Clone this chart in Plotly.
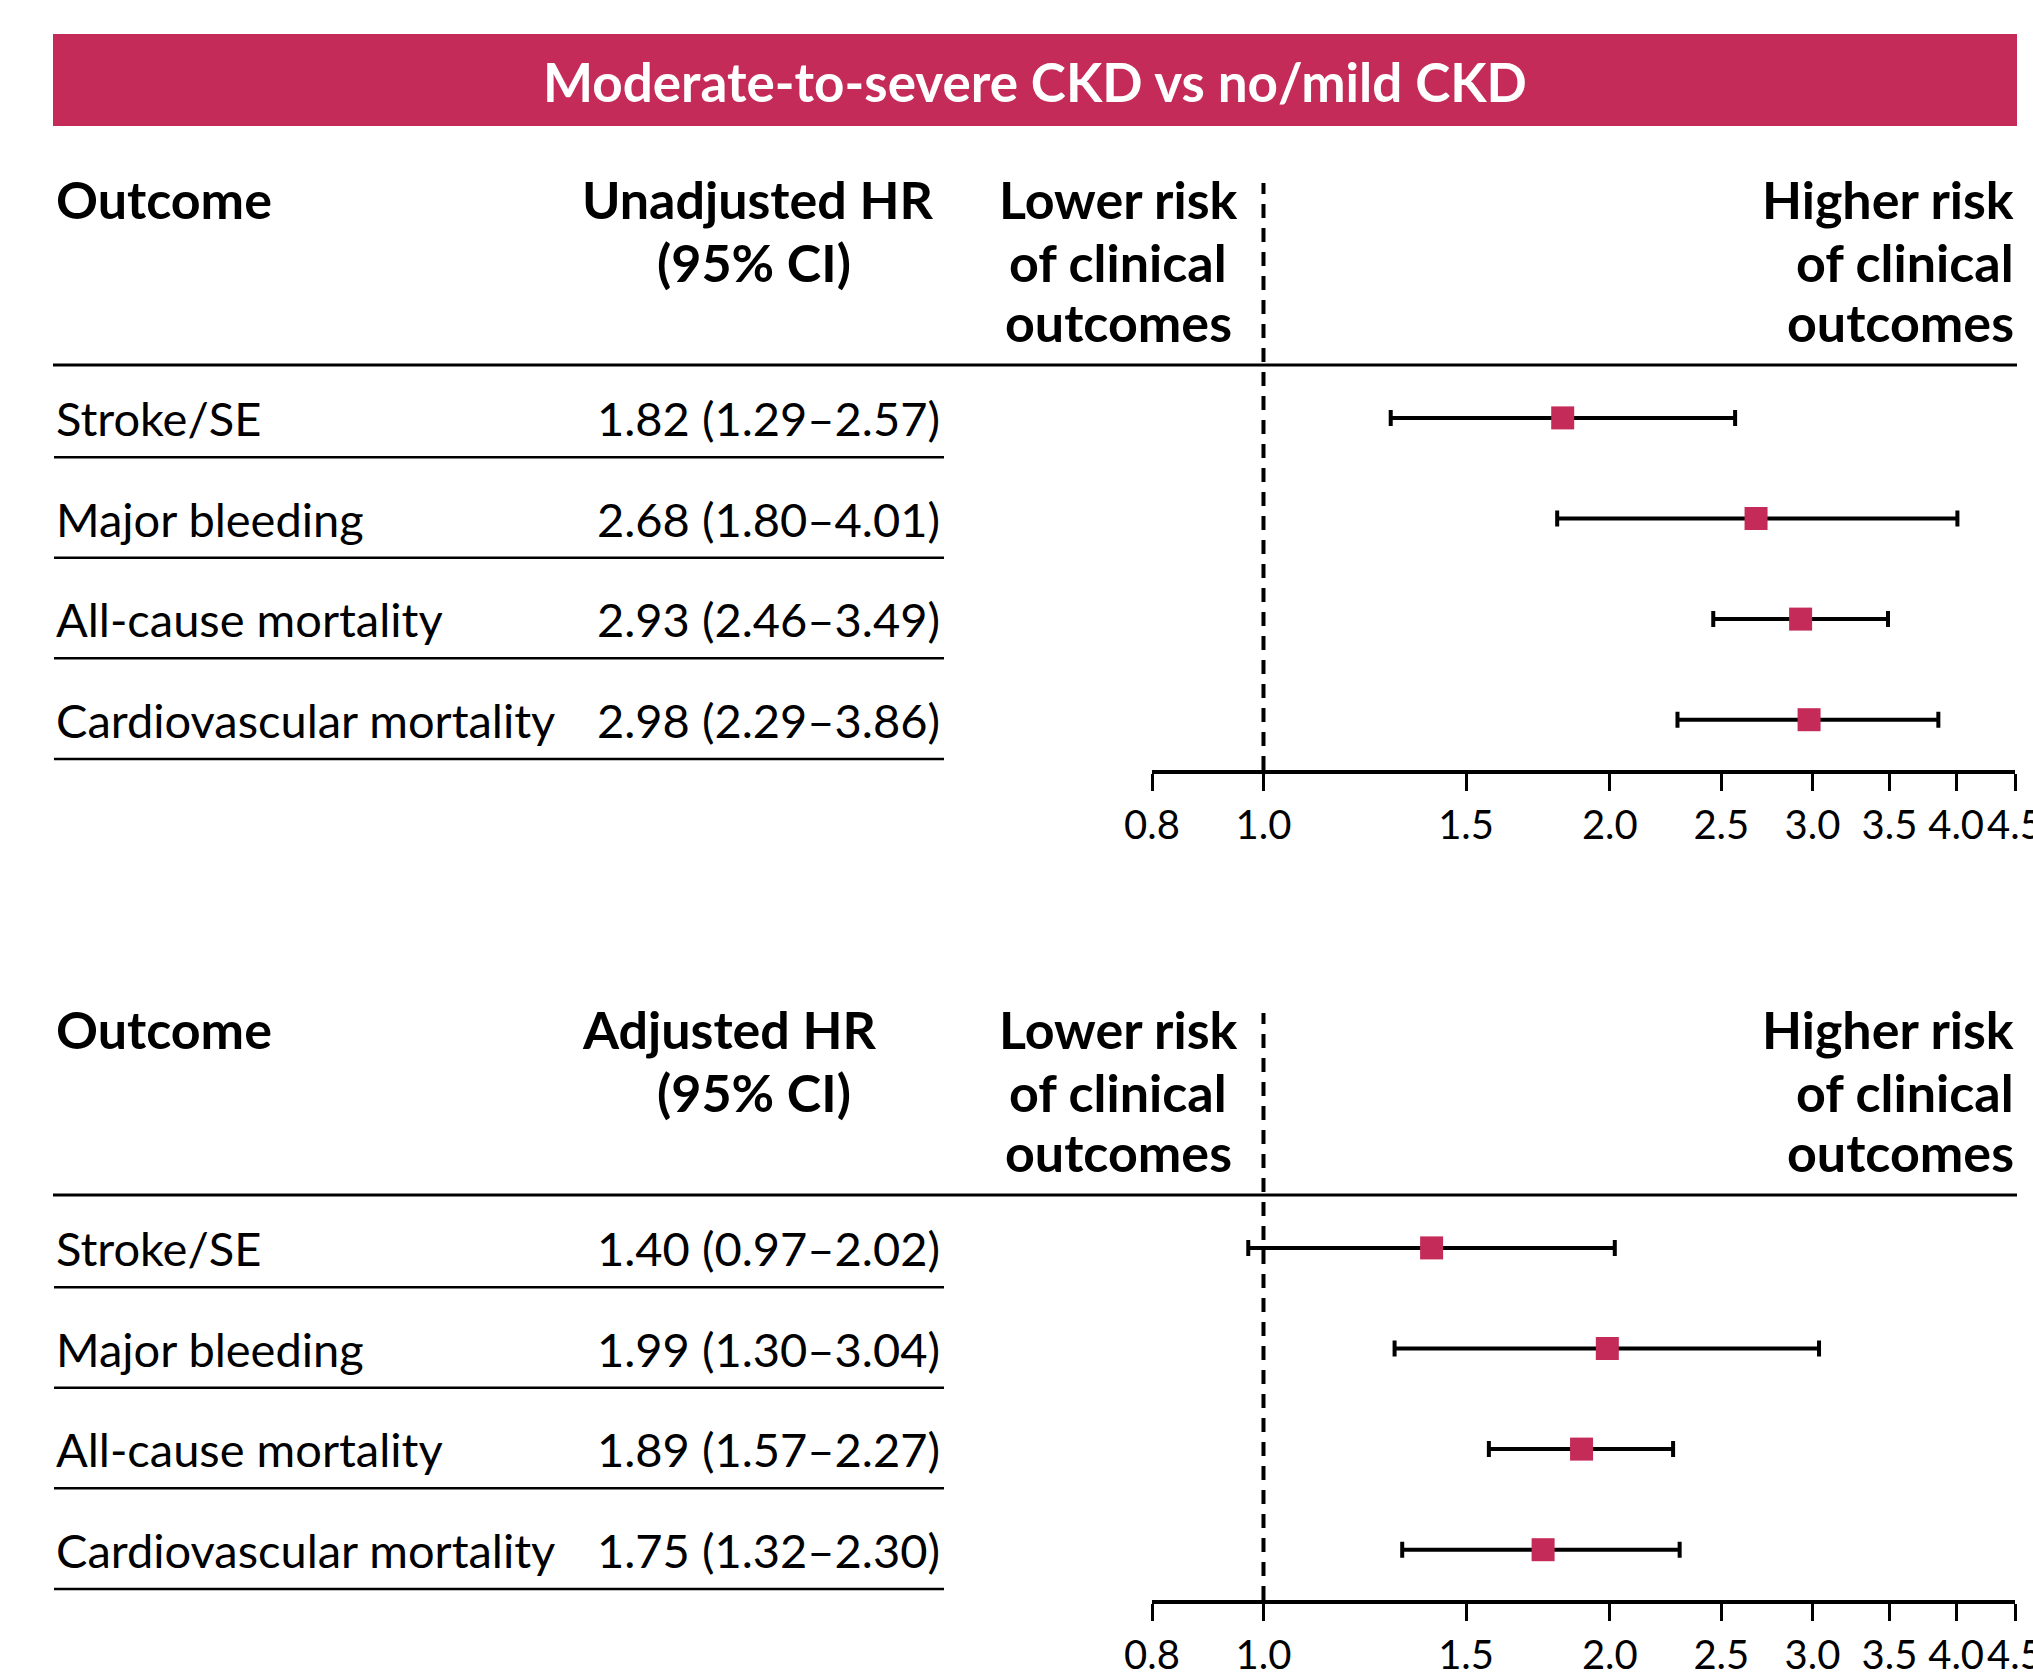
import math
import plotly.graph_objects as go

# ---------------- data ----------------
outcomes = ["Stroke/SE", "Major bleeding", "All-cause mortality", "Cardiovascular mortality"]

unadj_hr = [1.82, 2.68, 2.93, 2.98]
unadj_lo = [1.29, 1.80, 2.46, 2.29]
unadj_hi = [2.57, 4.01, 3.49, 3.86]

adj_hr = [1.40, 1.99, 1.89, 1.75]
adj_lo = [0.97, 1.30, 1.57, 1.32]
adj_hi = [2.02, 3.04, 2.27, 2.30]

tick_vals = [0.8, 1.0, 1.5, 2.0, 2.5, 3.0, 3.5, 4.0, 4.5]
tick_text = ["0.8", "1.0", "1.5", "2.0", "2.5", "3.0", "3.5", "4.0", "4.5"]

title_text = "Moderate-to-severe CKD vs no/mild CKD"
panel_hr_titles = ["Unadjusted HR", "Adjusted HR"]

# ---------------- layout constants ----------------
W, H = 2033, 1678
CRIMSON = "#C42B58"
FONT = "Lato"


def px(x):
    return x / W


def py(y):
    return 1 - y / H


fig = go.Figure()

panels = [
    dict(hr=unadj_hr, lo=unadj_lo, hi=unadj_hi, head=panel_hr_titles[0], ax="", top=183, bottom=770),
    dict(hr=adj_hr, lo=adj_lo, hi=adj_hi, head=panel_hr_titles[1], ax="2", top=1013, bottom=1600),
]

Y_TOP = -2.335   # row-index value at top of panel area
Y_BOT = 3.5      # row-index value at axis line

annotations = []
shapes = []

# title bar
shapes.append(dict(type="rect", xref="paper", yref="paper", x0=px(53), x1=px(2017), y0=py(126), y1=py(34),
                   fillcolor=CRIMSON, line=dict(width=0), layer="below"))
annotations.append(dict(text="<b>" + title_text + "</b>", xref="paper", yref="paper", x=px(1035), y=py(82),
                        xanchor="center", yanchor="middle", showarrow=False,
                        font=dict(family=FONT, size=53, color="white")))

for p in panels:
    xa = "x" + p["ax"]
    ya = "y" + p["ax"]
    n = len(outcomes)
    rows = list(range(n))
    err_plus = [h - m for h, m in zip(p["hi"], p["hr"])]
    err_minus = [m - l for m, l in zip(p["hr"], p["lo"])]
    fig.add_trace(go.Scatter(
        x=p["hr"], y=rows, mode="markers", xaxis=xa, yaxis=ya,
        marker=dict(symbol="square", size=23, color=CRIMSON, line=dict(width=0)),
        error_x=dict(type="data", symmetric=False, array=err_plus, arrayminus=err_minus,
                     color="black", thickness=4, width=8),
        hoverinfo="skip", showlegend=False,
    ))

    # dashed reference line at HR = 1
    shapes.append(dict(type="line", xref=xa, yref=ya + " domain", x0=1, x1=1, y0=0, y1=1,
                       line=dict(color="black", width=4, dash="14px,10px")))
    # header rule
    shapes.append(dict(type="line", xref="paper", yref=ya, x0=px(53), x1=px(2017), y0=-0.525, y1=-0.525,
                       line=dict(color="black", width=3)))
    # row separators and row texts
    for i in rows:
        shapes.append(dict(type="line", xref="paper", yref=ya, x0=px(54), x1=px(944), y0=i + 0.39, y1=i + 0.39,
                           line=dict(color="black", width=2.5)))
        annotations.append(dict(text=outcomes[i], xref="paper", yref=ya, x=px(54), y=i,
                                xanchor="left", yanchor="middle", showarrow=False,
                                font=dict(family=FONT, size=47, color="black")))
        annotations.append(dict(text=f"{p['hr'][i]:.2f} ({p['lo'][i]:.2f}\u2013{p['hi'][i]:.2f})",
                                xref="paper", yref=ya, x=px(942), y=i,
                                xanchor="right", yanchor="middle", showarrow=False,
                                font=dict(family=FONT, size=47, color="black")))

    # headers
    L1, L2, L3 = -2.172, -1.551, -0.950
    hfont = dict(family=FONT, size=52, color="black")

    def head(text, x, y, anchor):
        annotations.append(dict(text="<b>" + text + "</b>", xref="paper", yref=ya, x=px(x), y=y,
                                xanchor=anchor, yanchor="middle", showarrow=False, font=hfont))

    head("Outcome", 54, L1, "left")
    head(p["head"], 580, L1, "left")
    head("(95% CI)", 655, L2, "left")
    head("Lower risk", 1118, L1, "center")
    head("of clinical", 1118, L2, "center")
    head("outcomes", 1118, L3, "center")
    head("Higher risk", 2016, L1, "right")
    head("of clinical", 2016, L2, "right")
    head("outcomes", 2016, L3, "right")

    axis_common = dict(
        type="log", range=[math.log10(tick_vals[0]), math.log10(tick_vals[-1])],
        domain=[px(1152), px(2015)], showline=True, linewidth=4, linecolor="black",
        ticks="outside", ticklen=17, tickwidth=3, tickcolor="black",
        tickmode="array", tickvals=tick_vals, ticktext=tick_text, tickangle=0,
        tickfont=dict(family=FONT, size=40, color="black"), ticklabeloverflow="allow",
        showgrid=False, zeroline=False, fixedrange=True, anchor=ya, automargin=False,
    )
    yaxis_common = dict(domain=[py(p["bottom"]), py(p["top"])], range=[Y_BOT, Y_TOP],
                        visible=False, fixedrange=True, anchor=xa, automargin=False)
    fig.update_layout(**{"xaxis" + p["ax"]: axis_common, "yaxis" + p["ax"]: yaxis_common})

fig.update_layout(
    width=W, height=H, margin=dict(l=0, r=0, t=0, b=0, pad=0, autoexpand=False),
    paper_bgcolor="white", plot_bgcolor="rgba(0,0,0,0)",
    showlegend=False, annotations=annotations, shapes=shapes,
    font=dict(family=FONT),
)

fig.write_html("out.html", config={"displayModeBar": False},
               post_script="document.body.style.margin='0';")
